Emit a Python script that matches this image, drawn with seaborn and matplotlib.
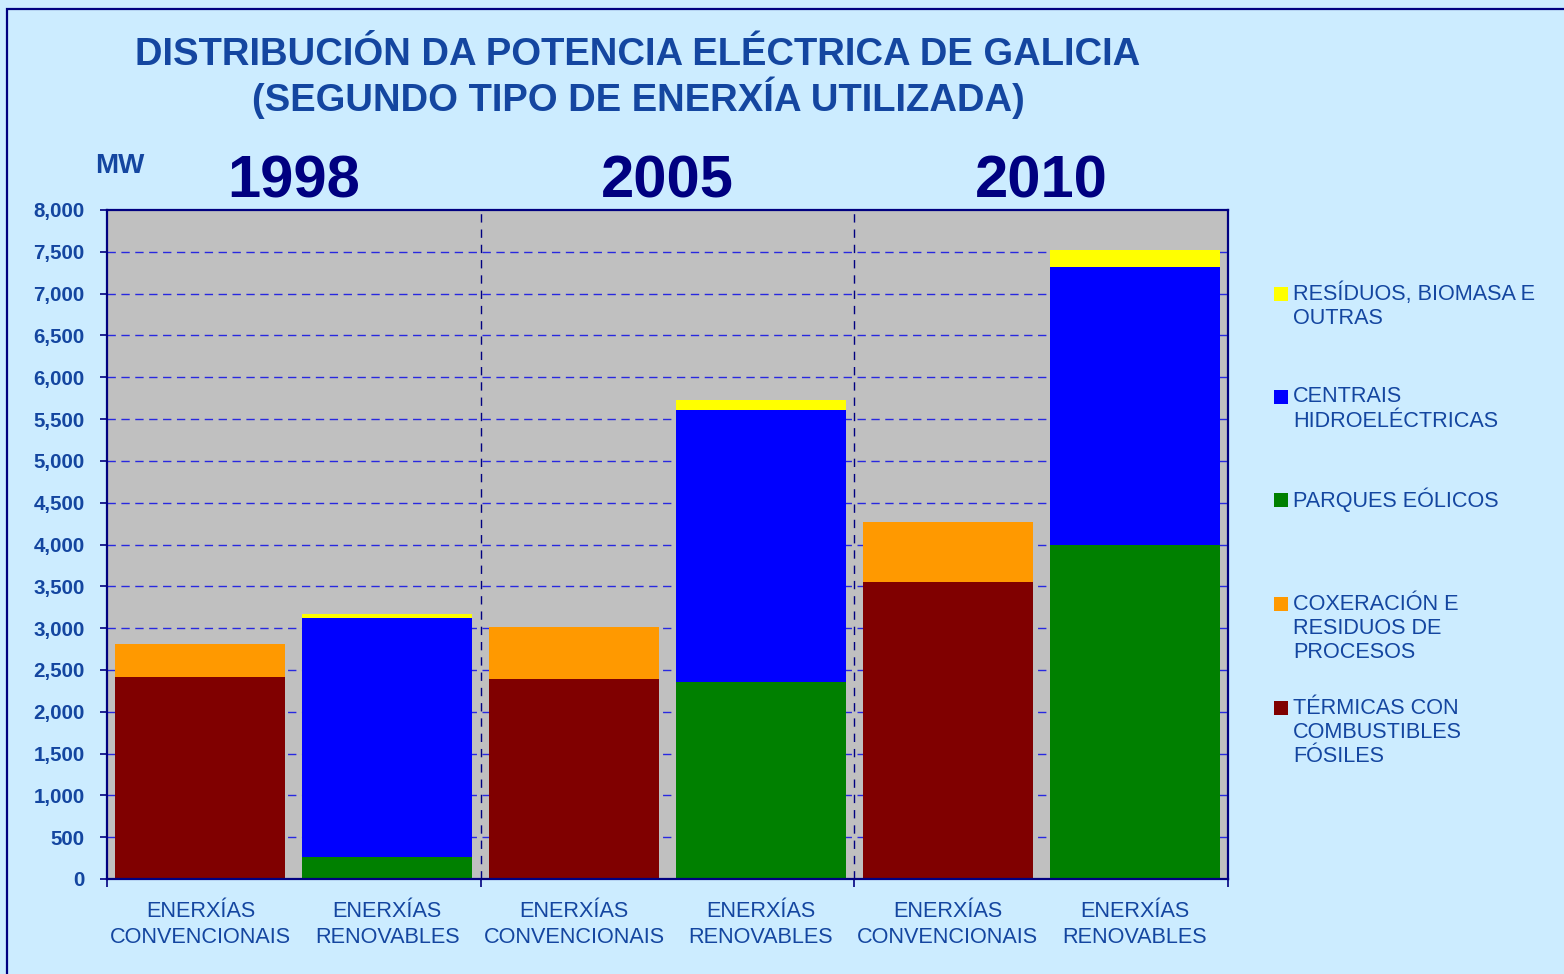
import numpy as np
import pandas as pd
import matplotlib
matplotlib.use("Agg")
import matplotlib.pyplot as plt
from matplotlib.patches import Rectangle
import seaborn as sns

# =========================================
# DATA
# =========================================

years = ["1998", "2005", "2010"]
bar_keys = ["1998_conv", "1998_renov", "2005_conv", "2005_renov", "2010_conv", "2010_renov"]
bar_labels = ["ENERXÍAS\nCONVENCIONAIS", "ENERXÍAS\nRENOVABLES"] * 3

# MW, bottom -> top
termicas = [2420, 0, 2390, 0, 3550, 0]
coxeracion = [390, 0, 620, 0, 720, 0]
eolicos = [0, 260, 0, 2360, 0, 4000]
hidro = [0, 2860, 0, 3250, 0, 3320]
residuos = [0, 50, 0, 120, 0, 200]

series_names = [
    "TÉRMICAS CON\nCOMBUSTIBLES\nFÓSILES",
    "COXERACIÓN E\nRESIDUOS DE\nPROCESOS",
    "PARQUES EÓLICOS",
    "CENTRAIS\nHIDROELÉCTRICAS",
    "RESÍDUOS, BIOMASA E\nOUTRAS",
]
series_colors = ["#800000", "#FF9900", "#008000", "#0000FF", "#FFFF00"]

yticks = np.arange(0, 8001, 500)

# =========================================
# STYLE
# =========================================

W, H = 1564, 974
BG = "#CCECFF"
TXT = "#1446A0"
NAVY = "#000080"

sns.set_theme(style="white")
plt.rcParams["font.family"] = ["Liberation Sans", "DejaVu Sans"]


def fx(px):
    return px / W


def fy(py):
    return 1 - py / H


fig = plt.figure(figsize=(W / 100, H / 100), dpi=100, facecolor=BG)
ax = fig.add_axes([fx(107), fy(879), (1228 - 107) / W, (879 - 210) / H])
ax.set_facecolor("#C0C0C0")

# =========================================
# BARS (cumulative, drawn top layer first)
# =========================================

layers = np.array([termicas, coxeracion, eolicos, hidro, residuos])
cum = np.cumsum(layers, axis=0)

for i in range(len(layers) - 1, -1, -1):
    df = pd.DataFrame({"bar": bar_keys, "mw": cum[i]})
    sns.barplot(data=df, x="bar", y="mw", order=bar_keys, color=series_colors[i],
                saturation=1, width=0.91, errorbar=None, linewidth=0, ax=ax, zorder=2)

# =========================================
# AXES
# =========================================

ax.set_xlim(-0.5, 5.5)
ax.set_ylim(0, 8000)
ax.set_xlabel("")
ax.set_ylabel("")

ax.set_yticks(yticks)
ax.set_yticklabels([f"{v:,}" for v in yticks], fontsize=14.8, fontweight="bold", color=TXT)
ax.tick_params(axis="y", which="major", direction="out", length=5, width=1.2,
               color=NAVY, pad=11, left=True)

ax.set_xticks([-0.5, 1.5, 3.5, 5.5])
ax.set_xticklabels([])
ax.set_xticks(range(len(bar_keys)), minor=True)
ax.set_xticklabels(bar_labels, minor=True, fontsize=15.6, color=TXT, linespacing=1.3)
ax.tick_params(axis="x", which="major", direction="out", length=6, width=1.2,
               color=NAVY, bottom=True)
ax.tick_params(axis="x", which="minor", length=0, pad=16)

for v in yticks[1:-1]:
    ax.axhline(v, color="#2828E0", lw=1, ls=(0, (6, 4)), zorder=1)
for x in [1.5, 3.5]:
    ax.axvline(x, color=NAVY, lw=1, ls=(0, (6, 5)), zorder=3)

for s in ax.spines.values():
    s.set_color(NAVY)
    s.set_linewidth(1.6)
    s.set_visible(True)

# year labels above each group
for k, yr in enumerate(years):
    ax.text(2 * k + 0.5, (879 - 197) / 669, yr, transform=ax.get_xaxis_transform(),
            ha="center", va="baseline", fontsize=43, fontweight="bold", color=NAVY)

# =========================================
# TEXT
# =========================================

fig.text(fx(638), fy(65), "DISTRIBUCIÓN DA POTENCIA ELÉCTRICA DE GALICIA",
         ha="center", va="baseline", fontsize=27.5, fontweight="bold", color=TXT)
fig.text(fx(638), fy(111), "(SEGUNDO TIPO DE ENERXÍA UTILIZADA)",
         ha="center", va="baseline", fontsize=27.5, fontweight="bold", color=TXT)
fig.text(fx(95), fy(173), "MW", ha="left", va="baseline",
         fontsize=20, fontweight="bold", color=TXT)

# legend (top entry first)
leg_top = [294, 397, 500, 604, 708]
for j, idx in enumerate(range(len(series_names) - 1, -1, -1)):
    y0 = leg_top[j]
    fig.add_artist(Rectangle((fx(1274), fy(y0 + 7)), 14 / W, 14 / H,
                             transform=fig.transFigure, facecolor=series_colors[idx],
                             edgecolor="none"))
    for n, line in enumerate(series_names[idx].split("\n")):
        fig.text(fx(1293), fy(y0 + n * 24.5), line, ha="left", va="center",
                 fontsize=15.6, color=TXT)

# outer frame
fig.add_artist(Rectangle((fx(7), -0.05), 1.2, fy(9) + 0.05, transform=fig.transFigure,
                         facecolor="none", edgecolor=NAVY, lw=1.6))

fig.savefig("out.png", dpi=100, facecolor=BG)
